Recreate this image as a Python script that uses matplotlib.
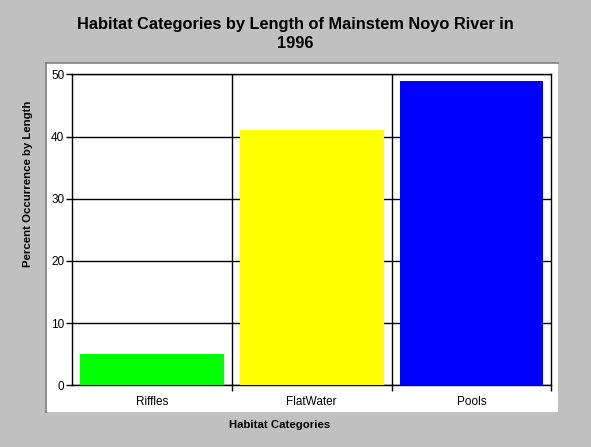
import matplotlib
matplotlib.use("Agg")
import matplotlib.pyplot as plt
from matplotlib.patches import Rectangle

categories = ["Riffles", "FlatWater", "Pools"]
percent = [5.0, 41.0, 49.0]
bar_colors = ["#00FF00", "#FFFF00", "#0000FF"]
y_ticks = [0, 10, 20, 30, 40, 50]

W, H = 591, 447
plt.rcParams["font.family"] = ["Liberation Sans", "DejaVu Sans"]

fig = plt.figure(figsize=(W / 100, H / 100), dpi=100, facecolor="#C0C0C0")

# white chart panel with a dark edge on top and left
px0, py0, px1, py1 = 46, 63, 558, 412
fig.patches.append(Rectangle((px0 / W, 1 - py1 / H), (px1 - px0) / W, (py1 - py0) / H,
                             transform=fig.transFigure, facecolor="white",
                             edgecolor="none", zorder=-2))
fig.add_artist(plt.Line2D([px0 / W, px1 / W], [1 - py0 / H, 1 - py0 / H],
                          transform=fig.transFigure, color="#808080", lw=1.2, zorder=-1))
fig.add_artist(plt.Line2D([px0 / W, px0 / W], [1 - py0 / H, 1 - py1 / H],
                          transform=fig.transFigure, color="#808080", lw=1.2, zorder=-1))

ax0, ay0, ax1, ay1 = 72, 74.3, 551.3, 385.3
ax = fig.add_axes([ax0 / W, 1 - ay1 / H, (ax1 - ax0) / W, (ay1 - ay0) / H])
ax.set_facecolor("white")

x = range(len(categories))
ax.bar(x, percent, width=0.9, color=bar_colors, zorder=3)

ax.set_xlim(-0.5, len(categories) - 0.5)
ax.set_ylim(0, 50)
ax.set_yticks(y_ticks)
ax.set_xticks(list(x))
ax.set_xticklabels(categories)
ax.set_xticks([i + 0.5 for i in x], minor=True)

ax.tick_params(axis="x", which="major", length=0, pad=8, labelsize=8.5)
ax.tick_params(axis="x", which="minor", length=4, width=1, color="black")
ax.tick_params(axis="y", length=4.5, width=1, pad=1, labelsize=8.5)

for v in y_ticks:
    ax.axhline(v, color="black", lw=1, zorder=1)
for i in range(len(categories) - 1):
    ax.axvline(i + 0.5, color="black", lw=1, zorder=1)
for s in ax.spines.values():
    s.set_color("black")
    s.set_linewidth(1)

fig.text(295 / W, 1 - 25 / H, "Habitat Categories by Length of Mainstem Noyo River in",
         ha="center", va="center", fontsize=11.8, fontweight="bold")
fig.text(295 / W, 1 - 44 / H, "1996", ha="center", va="center",
         fontsize=11.8, fontweight="bold")
fig.text(28 / W, 1 - 184 / H, "Percent Occurrence by Length", rotation=90,
         ha="center", va="center", fontsize=8.2, fontweight="bold")
fig.text(280 / W, 1 - 425 / H, "Habitat Categories", ha="center", va="center",
         fontsize=8.2, fontweight="bold")

fig.savefig("out.png", dpi=100, facecolor=fig.get_facecolor())
